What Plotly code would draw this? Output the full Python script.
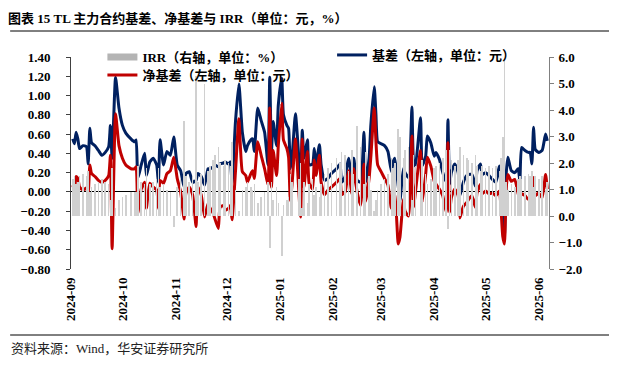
import plotly.graph_objects as go

dates = [
"2024-09-02","2024-09-03","2024-09-04","2024-09-05","2024-09-06","2024-09-08","2024-09-10","2024-09-11","2024-09-12","2024-09-13",
"2024-09-15","2024-09-17","2024-09-19","2024-09-21","2024-09-23","2024-09-24","2024-09-25","2024-09-27","2024-09-29","2024-10-01",
"2024-10-03","2024-10-06","2024-10-08","2024-10-09","2024-10-10","2024-10-12","2024-10-14","2024-10-15","2024-10-17","2024-10-19",
"2024-10-21","2024-10-22","2024-10-23","2024-10-25","2024-10-27","2024-10-29","2024-10-31","2024-11-02","2024-11-04","2024-11-06",
"2024-11-07","2024-11-09","2024-11-11","2024-11-13","2024-11-14","2024-11-16","2024-11-18","2024-11-20","2024-11-21","2024-11-23",
"2024-11-24","2024-11-26","2024-11-27","2024-11-29","2024-11-30","2024-12-02","2024-12-03","2024-12-04",
"2024-12-06","2024-12-08","2024-12-10","2024-12-12","2024-12-13","2024-12-15","2024-12-16","2024-12-17","2024-12-19","2024-12-21",
"2024-12-23","2024-12-25","2024-12-26","2024-12-27","2024-12-28","2024-12-30","2024-12-31","2025-01-02","2025-01-03","2025-01-05",
"2025-01-06","2025-01-07","2025-01-08","2025-01-10","2025-01-12","2025-01-13","2025-01-14","2025-01-15","2025-01-17","2025-01-18",
"2025-01-20","2025-01-21","2025-01-22","2025-01-24","2025-01-25","2025-01-27","2025-01-29","2025-01-31","2025-02-03","2025-02-05",
"2025-02-06","2025-02-08","2025-02-10","2025-02-12","2025-02-13","2025-02-15","2025-02-17","2025-02-19","2025-02-20","2025-02-22",
"2025-02-23","2025-02-25","2025-02-26","2025-02-27","2025-03-01","2025-03-03","2025-03-05","2025-03-07","2025-03-08",
"2025-03-09","2025-03-11","2025-03-12","2025-03-14","2025-03-15","2025-03-17","2025-03-19","2025-03-20","2025-03-21","2025-03-24",
"2025-03-25","2025-03-27","2025-03-28","2025-03-30","2025-04-01","2025-04-02","2025-04-04","2025-04-06","2025-04-08","2025-04-09",
"2025-04-10","2025-04-11","2025-04-13","2025-04-15","2025-04-16","2025-04-18","2025-04-20","2025-04-21","2025-04-23","2025-04-25",
"2025-04-26","2025-04-28","2025-04-29","2025-05-01","2025-05-03","2025-05-05","2025-05-07","2025-05-09","2025-05-10","2025-05-11",
"2025-05-12","2025-05-13","2025-05-14","2025-05-16","2025-05-18","2025-05-20","2025-05-21","2025-05-22","2025-05-24","2025-05-26",
"2025-05-27","2025-05-28","2025-05-29","2025-05-30","2025-06-01","2025-06-03","2025-06-05","2025-06-06",
]

basis = [
0.55,0.50,0.62,0.55,0.45,0.48,0.47,0.29,0.66,0.51,
0.48,0.43,0.38,0.41,0.47,0.69,0.35,1.19,0.87,0.69,
0.61,0.55,0.52,0.54,0.14,0.28,0.40,0.17,0.31,0.35,
0.28,0.10,0.54,0.28,0.42,0.38,0.57,0.28,0.22,0.05,
0.19,0.21,0.10,0.12,0.19,0.16,0.07,0.24,0.24,0.26,
0.28,0.26,0.29,0.30,0.31,0.29,0.31,0.09,
0.73,1.12,0.62,0.42,0.48,0.54,0.55,0.42,0.87,0.74,
0.62,0.28,1.19,0.42,0.73,0.48,0.90,1.18,0.80,0.69,
0.66,0.24,0.35,0.81,0.35,0.10,0.64,0.35,0.54,0.28,
0.29,0.45,0.28,0.49,0.28,0.12,0.14,0.19,0.24,0.29,
0.10,0.16,0.35,0.12,0.35,0.12,0.10,0.62,0.10,0.35,
0.69,1.09,0.80,0.52,0.50,0.48,0.42,0.21,0.31,
0.35,0.06,-0.09,0.24,0.20,0.15,0.88,0.30,0.27,0.77,
0.27,0.37,0.58,0.51,0.37,0.41,0.34,0.20,0.10,0.75,
0.08,0.20,0.29,0.20,-0.04,0.10,0.17,0.18,0.18,0.06,
0.22,0.29,0.18,0.20,0.17,0.13,0.10,0.27,0.03,-0.25,
-0.45,0.18,0.36,0.22,0.20,0.24,0.11,0.46,0.43,0.41,
0.41,0.29,0.67,0.44,0.41,0.43,0.60,0.53,
]

net_basis = [
0.07,0.03,0.16,0.14,0.05,0.02,0.04,-0.02,0.28,0.19,
0.16,0.12,0.10,0.12,0.17,0.38,-0.59,0.81,0.48,0.35,
0.28,0.24,0.24,0.26,-0.22,0.03,0.10,-0.17,0.09,0.05,
0.02,-0.17,0.12,0.09,0.19,0.22,0.36,0.14,0.00,-0.28,
-0.02,0.05,-0.03,-0.36,0.05,-0.03,-0.26,-0.12,-0.16,-0.22,
-0.28,-0.38,-0.16,-0.14,-0.19,-0.17,-0.14,-0.29,
0.21,0.76,0.21,0.17,0.10,0.19,0.22,0.14,0.52,0.38,
0.24,0.07,0.87,0.05,0.43,0.17,0.48,0.92,0.54,0.45,
0.36,-0.09,0.07,0.55,0.00,-0.26,0.55,0.05,0.42,0.09,
0.03,0.33,0.17,0.38,0.10,-0.03,0.02,0.05,0.10,0.14,
-0.03,0.00,0.22,-0.02,0.24,0.00,-0.14,0.29,-0.10,0.14,
0.36,0.87,0.52,0.28,0.21,0.14,0.07,-0.17,-0.03,
-0.04,-0.54,-0.47,-0.08,-0.20,-0.25,0.58,-0.16,-0.01,0.43,
-0.11,0.18,0.36,0.27,0.11,0.08,0.03,-0.04,-0.21,0.51,
-0.21,-0.06,0.03,-0.04,-0.27,-0.15,-0.11,-0.08,-0.04,-0.16,
-0.01,0.08,-0.02,0.01,-0.02,-0.01,-0.04,0.01,-0.18,-0.46,
-0.54,0.03,0.18,0.11,0.13,-0.02,-0.06,-0.02,-0.04,-0.08,
-0.04,-0.20,0.15,-0.04,-0.01,-0.06,0.18,0.03,
]

irr = [
1.4,1.5,1.2,1.3,1.5,1.6,1.5,1.7,0.9,1.1,
1.2,1.3,1.4,1.3,1.2,0.6,1.8,0.3,0.6,0.7,
0.8,0.9,0.9,0.9,1.9,1.3,1.2,1.8,1.2,1.3,
1.4,1.8,1.1,1.2,1.0,0.9,-0.4,1.1,1.4,3.6,
1.5,1.3,1.5,5.3,1.3,1.6,5.0,1.7,1.9,2.1,
2.3,2.6,2.0,1.9,2.1,2.0,1.9,2.8,
1.0,0.2,1.0,1.1,1.3,1.1,1.0,1.2,0.5,0.7,
0.9,1.3,-1.2,1.3,0.6,1.1,0.5,-1.5,0.4,0.6,
0.7,1.6,1.3,0.0,1.4,2.0,0.3,1.3,0.5,1.2,
1.4,0.8,1.1,0.7,1.2,1.6,1.8,2.0,2.2,2.0,
2.4,2.3,1.7,2.5,1.6,3.4,2.6,1.2,2.4,1.5,
1.0,0.2,0.6,1.0,1.2,1.4,1.6,2.2,1.8,
2.0,3.3,3.0,2.2,2.5,2.6,0.6,2.3,1.9,0.9,
2.1,1.6,1.2,1.4,1.8,1.9,2.0,2.2,2.5,-0.5,
2.5,2.1,1.9,2.1,2.6,2.3,2.2,2.1,2.0,2.3,
1.9,1.7,1.9,1.8,1.9,1.8,1.9,1.7,2.2,3.0,
5.9,1.3,1.0,1.2,1.1,1.4,1.5,1.4,1.5,1.6,
1.5,1.7,1.1,1.5,1.4,1.5,1.0,1.3,
]

title_text = "图表 15 TL 主力合约基差、净基差与 IRR（单位：元，%）"
source_text = "资料来源：Wind，华安证券研究所"
name_irr = "IRR（右轴，单位：%）"
name_net = "净基差（左轴，单位：元）"
name_basis = "基差（左轴，单位：元）"

SERIF = "Liberation Serif, Noto Sans CJK SC, serif"
OFF = 8  # page body margin of the browser
W, H = 617, 365
# target plot area in screen pixels: x 62..549, y 57..269
L, T = 62 - OFF, 57 - OFF
R = W - (549 - OFF)
B = H - (269 - OFF)
PW, PH = W - L - R, H - T - B

def px(xs):
    return (xs - OFF - L) / PW

def py(ys):
    return (H - B - (ys - OFF)) / PH

fig = go.Figure()
fig.add_trace(go.Bar(x=dates, y=irr, yaxis="y2", name=name_irr,
                     marker=dict(color="#d0d0d0", line=dict(width=0)),
                     width=0.35 * 86400000, showlegend=False))
# legend proxy for IRR (wide grey patch)
fig.add_trace(go.Scatter(x=[None], y=[None], mode="lines", name=name_irr,
                         line=dict(color="#b4b4b4", width=7), legend="legend"))
fig.add_trace(go.Scatter(x=dates, y=basis, mode="lines", name=name_basis,
                         line=dict(color="#002060", width=3, shape="spline", smoothing=0.5),
                         legend="legend3"))
fig.add_trace(go.Scatter(x=dates, y=net_basis, mode="lines", name=name_net,
                         line=dict(color="#c00000", width=3, shape="spline", smoothing=0.5),
                         legend="legend2"))

tickfont = dict(family=SERIF, size=13, color="#000000", weight="bold")
legfont = dict(family=SERIF, size=13, color="#000000", weight="bold")

fig.update_layout(
    width=W, height=H,
    margin=dict(l=L, r=R, t=T, b=B, pad=0),
    paper_bgcolor="white", plot_bgcolor="white",
    font=dict(family=SERIF, color="#000000"),
    bargap=0,
    xaxis=dict(type="date", range=["2024-09-01", "2025-06-07"],
               tick0="2024-09-01", dtick="M1", tickformat="%Y-%m",
               tickangle=-90, ticks="", showline=False, showgrid=False,
               zeroline=False, tickfont=tickfont, ticklabelstandoff=5),
    yaxis=dict(range=[-0.8, 1.4], dtick=0.2, tickformat=".2f",
               showgrid=False, zeroline=True, zerolinecolor="#000000",
               zerolinewidth=1, showline=True, linecolor="#404040",
               linewidth=1, ticks="outside", ticklen=4, tickcolor="#404040",
               tickfont=tickfont, ticklabelstandoff=13),
    yaxis2=dict(range=[-2, 6], dtick=1, tickformat=".1f", overlaying="y",
                side="right", showgrid=False, zeroline=False, showline=True,
                linecolor="#808080", linewidth=1, ticks="outside", ticklen=4,
                tickcolor="#808080", tickfont=tickfont, ticklabelstandoff=2),
    legend=dict(x=px(94), y=py(57), xanchor="left", yanchor="middle",
                bgcolor="rgba(0,0,0,0)", font=legfont, borderwidth=0),
    legend2=dict(x=px(94), y=py(75), xanchor="left", yanchor="middle",
                 bgcolor="rgba(0,0,0,0)", font=legfont, borderwidth=0),
    legend3=dict(x=px(328), y=py(55), xanchor="left", yanchor="middle",
                 bgcolor="rgba(0,0,0,0)", font=legfont, borderwidth=0),
    title=dict(text=title_text, xref="container", yref="container",
               x=0.0, xanchor="left", y=1 - (18 - OFF) / H, yanchor="middle",
               font=dict(family=SERIF, size=13, color="#000000", weight="bold")),
    shapes=[
        dict(type="line", xref="paper", yref="paper", x0=px(0), x1=px(612),
             y0=py(31), y1=py(31), line=dict(color="#000000", width=1)),
        dict(type="line", xref="paper", yref="paper", x0=px(0), x1=px(612),
             y0=py(335), y1=py(335), line=dict(color="#000000", width=1)),
    ],
    annotations=[
        dict(text=source_text, xref="paper", yref="paper", x=px(-1), y=py(348),
             xanchor="left", yanchor="middle", showarrow=False,
             font=dict(family=SERIF, size=13, color="#222222")),
    ],
)

fig.write_html("out.html")
